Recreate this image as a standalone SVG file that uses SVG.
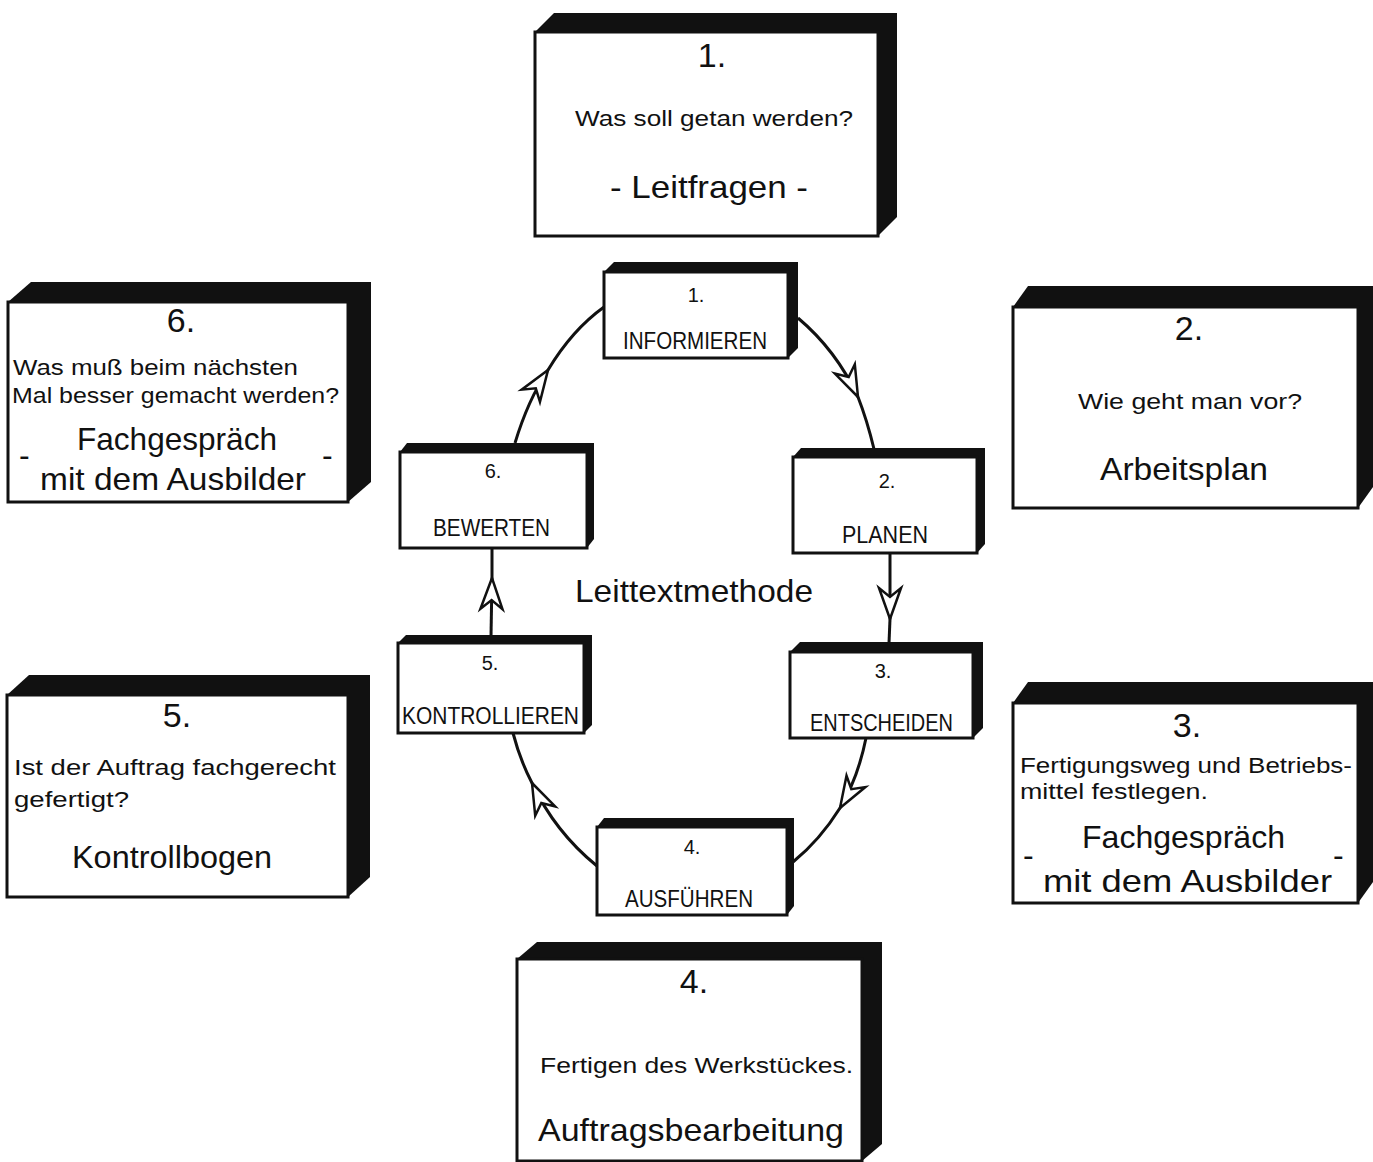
<svg xmlns="http://www.w3.org/2000/svg" width="1373" height="1162" viewBox="0 0 1373 1162">
<style>
text{font-family:"Liberation Sans","DejaVu Sans",Arial,sans-serif;fill:#111}
.front{fill:#fff;stroke:#111;stroke-width:3}
.side{fill:#111}
.n{font-size:34px;text-anchor:middle}
.q{font-size:22px}
.h{font-size:32px}
.sn{font-size:20px;text-anchor:middle}
.sl{font-size:24px}
.c{fill:none;stroke:#111;stroke-width:3}
.title{font-size:32px}
</style>
<defs>
<marker id="ah" markerUnits="userSpaceOnUse" viewBox="-36 -16 40 32" refX="0" refY="0" markerWidth="40" markerHeight="32" orient="auto" overflow="visible">
<path d="M0,0 L-31,-11 L-22,0 L-31,11 Z" fill="#fff" stroke="#111" stroke-width="2.5" stroke-linejoin="miter"/>
</marker>
</defs>

<g id="connectors">
<path class="c" d="M798,318 Q836,350 858,397" marker-end="url(#ah)"/>
<path class="c" d="M858,397 Q867,420 874,449"/>
<path class="c" d="M890,553 L890,619" marker-end="url(#ah)"/>
<path class="c" d="M890,619 L889,643"/>
<path class="c" d="M866,738 Q858,778 840,808" marker-end="url(#ah)"/>
<path class="c" d="M840,808 Q820,840 793,862"/>
<path class="c" d="M597,866 Q555,832 532,783" marker-end="url(#ah)"/>
<path class="c" d="M532,783 Q520,760 513,733"/>
<path class="c" d="M491,636 L492,578" marker-end="url(#ah)"/>
<path class="c" d="M492,578 L492,548"/>
<path class="c" d="M515,443 Q528,400 548,370" marker-end="url(#ah)"/>
<path class="c" d="M548,370 Q572,330 604,307"/>
</g>

<g id="box1">
<polygon class="side" points="535,32 554,13 897,13 897,217 878,236 535,236"/>
<rect class="front" x="535" y="32" width="343" height="204"/>
<text class="n" x="712" y="67">1.</text>
<text class="q" x="575" y="126" textLength="278" lengthAdjust="spacingAndGlyphs">Was soll getan werden?</text>
<text class="h" x="610" y="198" textLength="198" lengthAdjust="spacingAndGlyphs">- Leitfragen -</text>
</g>

<g id="box2">
<polygon class="side" points="1013,307 1028,286 1373,286 1373,487 1358,508 1013,508"/>
<rect class="front" x="1013" y="307" width="345" height="201"/>
<text class="n" x="1189" y="340">2.</text>
<text class="q" x="1078" y="409" textLength="224" lengthAdjust="spacingAndGlyphs">Wie geht man vor?</text>
<text class="h" x="1100" y="480" textLength="168" lengthAdjust="spacingAndGlyphs">Arbeitsplan</text>
</g>

<g id="box3">
<polygon class="side" points="1013,703 1028,682 1373,682 1373,882 1358,903 1013,903"/>
<rect class="front" x="1013" y="703" width="345" height="200"/>
<text class="n" x="1187" y="737">3.</text>
<text class="q" x="1020" y="773" textLength="332" lengthAdjust="spacingAndGlyphs">Fertigungsweg und Betriebs-</text>
<text class="q" x="1020" y="799" textLength="188" lengthAdjust="spacingAndGlyphs">mittel festlegen.</text>
<text class="h" x="1082" y="848" textLength="203" lengthAdjust="spacingAndGlyphs">Fachgespräch</text>
<text class="h" x="1023" y="866">-</text>
<text class="h" x="1043" y="892" textLength="289" lengthAdjust="spacingAndGlyphs">mit dem Ausbilder</text>
<text class="h" x="1333" y="866">-</text>
</g>

<g id="box4">
<polygon class="side" points="517,959 537,942 882,942 882,1144 862,1161 517,1161"/>
<rect class="front" x="517" y="959" width="345" height="202"/>
<text class="n" x="694" y="993">4.</text>
<text class="q" x="540" y="1073" textLength="313" lengthAdjust="spacingAndGlyphs">Fertigen des Werkstückes.</text>
<text class="h" x="538" y="1141" textLength="306" lengthAdjust="spacingAndGlyphs">Auftragsbearbeitung</text>
</g>

<g id="box5">
<polygon class="side" points="7,695 29,675 370,675 370,877 348,897 7,897"/>
<rect class="front" x="7" y="695" width="341" height="202"/>
<text class="n" x="177" y="727">5.</text>
<text class="q" x="14" y="775" textLength="322" lengthAdjust="spacingAndGlyphs">Ist der Auftrag fachgerecht</text>
<text class="q" x="14" y="807" textLength="115" lengthAdjust="spacingAndGlyphs">gefertigt?</text>
<text class="h" x="72" y="868" textLength="200" lengthAdjust="spacingAndGlyphs">Kontrollbogen</text>
</g>

<g id="box6">
<polygon class="side" points="8,302 31,282 371,282 371,482 348,502 8,502"/>
<rect class="front" x="8" y="302" width="340" height="200"/>
<text class="n" x="181" y="332">6.</text>
<text class="q" x="13" y="375" textLength="285" lengthAdjust="spacingAndGlyphs">Was muß beim nächsten</text>
<text class="q" x="12" y="403" textLength="327" lengthAdjust="spacingAndGlyphs">Mal besser gemacht werden?</text>
<text class="h" x="77" y="450" textLength="200" lengthAdjust="spacingAndGlyphs">Fachgespräch</text>
<text class="h" x="19" y="466">-</text>
<text class="h" x="40" y="490" textLength="266" lengthAdjust="spacingAndGlyphs">mit dem Ausbilder</text>
<text class="h" x="322" y="466">-</text>
</g>

<g id="step1">
<polygon class="side" points="604,272 614,262 798,262 798,348 788,358 604,358"/>
<rect class="front" x="604" y="272" width="184" height="86"/>
<text class="sn" x="696" y="302">1.</text>
<text class="sl" x="623" y="349" textLength="144" lengthAdjust="spacingAndGlyphs">INFORMIEREN</text>
</g>

<g id="step2">
<polygon class="side" points="793,457 801,448 985,448 985,544 977,553 793,553"/>
<rect class="front" x="793" y="457" width="184" height="96"/>
<text class="sn" x="887" y="488">2.</text>
<text class="sl" x="842" y="543" textLength="86" lengthAdjust="spacingAndGlyphs">PLANEN</text>
</g>

<g id="step3">
<polygon class="side" points="790,652 800,642 983,642 983,728 973,738 790,738"/>
<rect class="front" x="790" y="652" width="183" height="86"/>
<text class="sn" x="883" y="678">3.</text>
<text class="sl" x="810" y="731" textLength="143" lengthAdjust="spacingAndGlyphs">ENTSCHEIDEN</text>
</g>

<g id="step4">
<polygon class="side" points="597,827 604,818 794,818 794,906 787,915 597,915"/>
<rect class="front" x="597" y="827" width="190" height="88"/>
<text class="sn" x="692" y="854">4.</text>
<text class="sl" x="625" y="907" textLength="128" lengthAdjust="spacingAndGlyphs">AUSFÜHREN</text>
</g>

<g id="step5">
<polygon class="side" points="398,643 406,635 592,635 592,725 584,733 398,733"/>
<rect class="front" x="398" y="643" width="186" height="90"/>
<text class="sn" x="490" y="670">5.</text>
<text class="sl" x="402" y="724" textLength="177" lengthAdjust="spacingAndGlyphs">KONTROLLIEREN</text>
</g>

<g id="step6">
<polygon class="side" points="400,452 407,443 594,443 594,539 587,548 400,548"/>
<rect class="front" x="400" y="452" width="187" height="96"/>
<text class="sn" x="493" y="478">6.</text>
<text class="sl" x="433" y="536" textLength="117" lengthAdjust="spacingAndGlyphs">BEWERTEN</text>
</g>

<text class="title" x="575" y="602" textLength="238" lengthAdjust="spacingAndGlyphs">Leittextmethode</text>
</svg>
